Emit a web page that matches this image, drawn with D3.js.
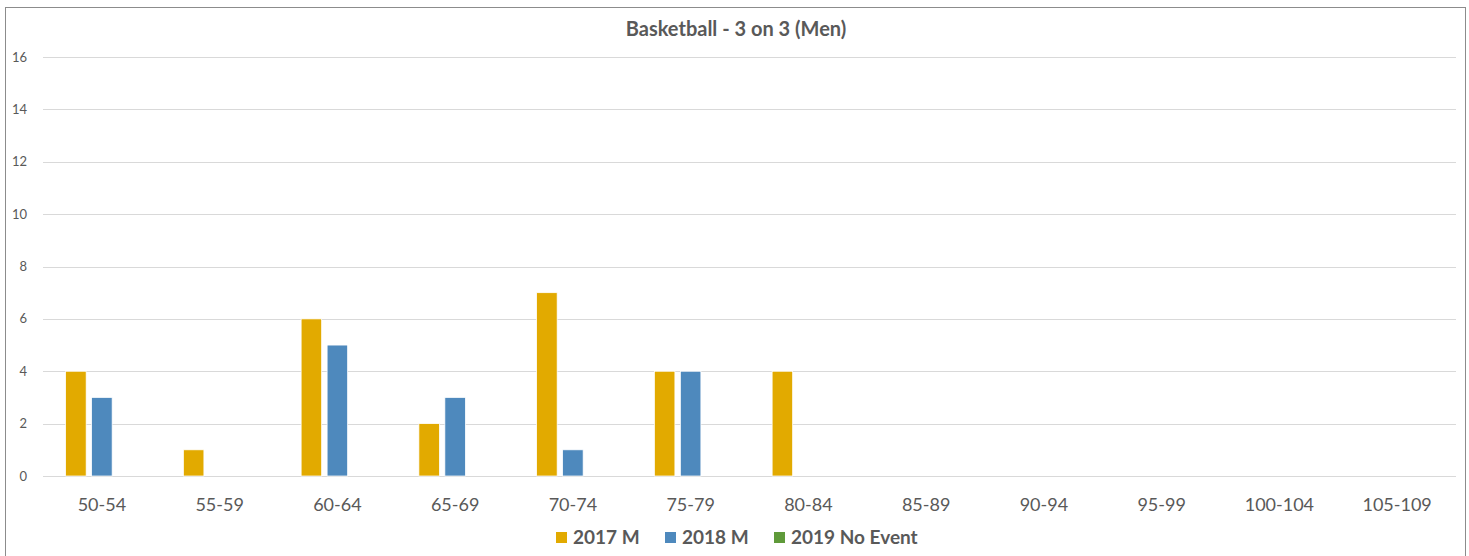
<html>
<head>
<script src="https://cdnjs.cloudflare.com/ajax/libs/d3/7.8.5/d3.min.js"></script>
<style>
  body { margin: 0; background: #fff; }
  text { font-family: Lato, "Open Sans", sans-serif; fill: #595959; }
</style>
</head>
<body>
<div id="chart"></div>
<script>
var categories = ["50-54", "55-59", "60-64", "65-69", "70-74", "75-79", "80-84", "85-89", "90-94", "95-99", "100-104", "105-109"];
var seriesNames = ["2017 M", "2018 M", "2019 No Event"];
var values2017 = [4, 1, 6, 2, 7, 4, 4, 0, 0, 0, 0, 0];
var values2018 = [3, 0, 5, 3, 1, 4, 0, 0, 0, 0, 0, 0];
var values2019 = [0, 0, 0, 0, 0, 0, 0, 0, 0, 0, 0, 0];
var yTicks = [0, 2, 4, 6, 8, 10, 12, 14, 16];
var colors = ["#E2AA00", "#4E89BD", "#5F9A3A"];

var W = 1469, H = 556;
var plot = { left: 43, right: 1456, top: 57, bottom: 476 };

var svg = d3.select("#chart").append("svg")
    .attr("width", W).attr("height", H);

// outer frame
svg.append("rect")
    .attr("x", 5.5).attr("y", 7.5)
    .attr("width", 1460).attr("height", 560)
    .attr("fill", "none").attr("stroke", "#8c8c8c").attr("stroke-width", 1);

var x0 = d3.scaleBand().domain(categories).range([plot.left, plot.right]).padding(0);
var x1 = d3.scaleBand().domain(seriesNames)
    .range([x0.bandwidth() / 2 - 36.25, x0.bandwidth() / 2 + 36.25])
    .paddingInner(0.21);
var y = d3.scaleLinear().domain([0, 16]).range([plot.bottom, plot.top]);

// gridlines
svg.append("g").selectAll("line")
    .data(yTicks)
    .enter().append("line")
    .attr("x1", plot.left).attr("x2", plot.right)
    .attr("y1", d => Math.round(y(d)) + 0.5)
    .attr("y2", d => Math.round(y(d)) + 0.5)
    .attr("stroke", "#d9d9d9").attr("stroke-width", 1);

// y labels
svg.append("g").selectAll("text")
    .data(yTicks)
    .enter().append("text")
    .attr("x", 27).attr("y", d => y(d))
    .attr("dy", "0.35em")
    .attr("text-anchor", "end")
    .style("font-size", "13px")
    .text(d => d);

// x labels
svg.append("g").selectAll("text")
    .data(categories)
    .enter().append("text")
    .attr("x", d => x0(d) + x0.bandwidth() / 2)
    .attr("y", 511)
    .attr("text-anchor", "middle")
    .style("font-size", "18px")
    .text(d => d);

// bars
var allSeries = [values2017, values2018, values2019];
var rows = [];
categories.forEach((c, i) => {
    seriesNames.forEach((s, j) => {
        rows.push({ cat: c, name: s, value: allSeries[j][i], color: colors[j] });
    });
});

svg.append("g").selectAll("rect")
    .data(rows.filter(d => d.value > 0))
    .enter().append("rect")
    .attr("x", d => x0(d.cat) + x1(d.name))
    .attr("y", d => y(d.value))
    .attr("width", x1.bandwidth())
    .attr("height", d => y(0) - y(d.value))
    .attr("fill", d => d.color)
    .attr("stroke", "#fff").attr("stroke-width", 0.75);

// title
svg.append("text")
    .attr("x", 736).attr("y", 36)
    .attr("text-anchor", "middle")
    .style("font-size", "20px").style("font-weight", "bold")
    .text("Basketball - 3 on 3 (Men)");

// legend
var legendX = [556, 665, 774];
var legend = svg.append("g").selectAll("g")
    .data(seriesNames)
    .enter().append("g")
    .attr("transform", (d, i) => "translate(" + legendX[i] + ",532)");
legend.append("rect")
    .attr("width", 11).attr("height", 11)
    .attr("fill", (d, i) => colors[i]);
legend.append("text")
    .attr("x", 17).attr("y", 5.5).attr("dy", "0.35em")
    .style("font-size", "19px").style("font-weight", "bold")
    .text(d => d);
</script>
</body>
</html>
